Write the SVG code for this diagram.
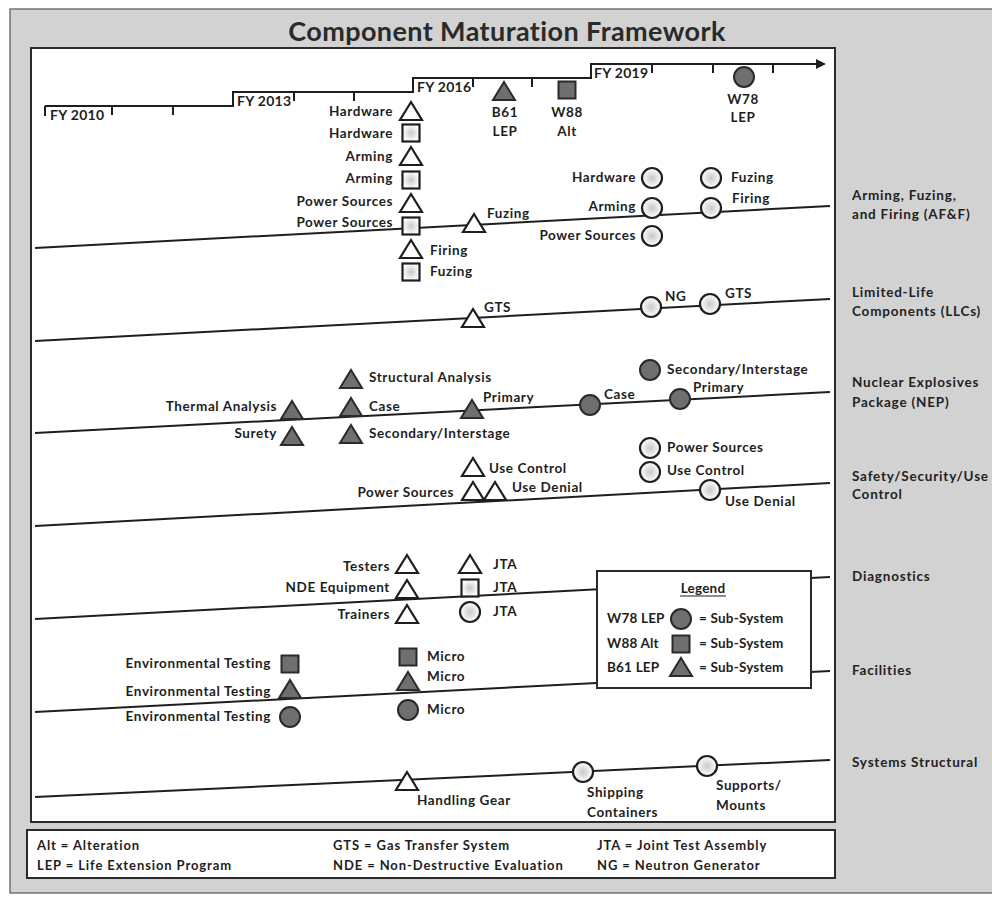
<svg xmlns="http://www.w3.org/2000/svg" xmlns:xlink="http://www.w3.org/1999/xlink" width="992" height="901" viewBox="0 0 992 901">
<style>
text{font-family:Lato,"Open Sans","Liberation Sans",sans-serif;font-weight:bold;fill:#1e1e1e;font-size:13.5px;letter-spacing:0.6px}
.end{text-anchor:end}
.mid{text-anchor:middle}
.lane{stroke:#1e1e1e;stroke-width:2;fill:none}
.tick{stroke:#1e1e1e;stroke-width:2}
.open{fill:#fff;stroke:#1e1e1e;stroke-width:2.2}
.soft{fill:url(#softg);stroke:#1e1e1e;stroke-width:2.2}
.dark{fill:#6f6f6f;stroke:#2a2a2a;stroke-width:2}
.side{font-size:13.5px;fill:#222;letter-spacing:0.8px}
.fy{font-size:14px;letter-spacing:0.3px}
.lg{font-size:13.5px;letter-spacing:0.2px}
.foot{font-size:13px;letter-spacing:0.9px}
.title{font-size:27px;fill:#2a2a2a;letter-spacing:0.4px}
</style>
<defs>
<radialGradient id="softg" cx="0.5" cy="0.5" r="0.5">
<stop offset="0" stop-color="#c8c8c8"/>
<stop offset="0.55" stop-color="#e6e6e6"/>
<stop offset="1" stop-color="#ffffff"/>
</radialGradient>
<marker id="arr" viewBox="0 0 10 10" refX="2" refY="5" markerWidth="5" markerHeight="5" orient="auto" markerUnits="strokeWidth">
<path d="M0,0 L10,5 L0,10 Z" fill="#1e1e1e"/>
</marker>
<path id="tO" d="M0,-9 L11,9 L-11,9 Z" class="open"/>
<path id="tD" d="M0,-9 L11,9 L-11,9 Z" class="dark"/>
<rect id="sO" x="-8.5" y="-8.5" width="17" height="17" class="soft"/>
<rect id="sD" x="-8.5" y="-8.5" width="17" height="17" class="dark"/>
<circle id="cO" r="10" class="soft"/>
<circle id="cD" r="10" class="dark"/>
</defs>

<!-- frame -->
<rect x="10" y="9" width="1000" height="884" fill="#d2d2d2" stroke="#555" stroke-width="1.2"/>
<rect x="31" y="48" width="804" height="774" fill="#fff" stroke="#2a2a2a" stroke-width="2"/>
<rect x="27" y="830" width="808" height="48" fill="#fff" stroke="#2a2a2a" stroke-width="2"/>
<text x="507" y="41" class="mid title">Component Maturation Framework</text>

<!-- timeline -->
<g id="timeline">
<path d="M45,106 H233 V92 H413 V78 H591 V64 H818" class="lane" marker-end="url(#arr)"/>
<path d="M45,106 V116 M112,106 V115 M173,106 V115 M233,92 V101 M294,92 V101 M354,92 V101 M413,78 V87 M473,78 V87 M532,78 V87 M591,64 V73 M652,64 V73 M713,64 V73 M773,64 V73" class="tick"/>
<text x="50" y="120" class="fy">FY 2010</text>
<text x="237" y="106" class="fy">FY 2013</text>
<text x="417" y="92" class="fy">FY 2016</text>
<text x="594" y="78" class="fy">FY 2019</text>
</g>
<g id="b61">
<use xlink:href="#tD" x="504" y="91"/>
<text x="505" y="117" class="mid">B61</text>
<text x="505" y="136" class="mid">LEP</text>
</g>
<g id="w88">
<use xlink:href="#sD" x="567" y="90"/>
<text x="567" y="117" class="mid">W88</text>
<text x="567" y="136" class="mid">Alt</text>
</g>
<g id="w78">
<use xlink:href="#cD" x="744" y="77"/>
<text x="743" y="104" class="mid">W78</text>
<text x="743" y="122" class="mid">LEP</text>
</g>

<!-- lane lines -->
<g id="connectors">
<line x1="35" y1="248" x2="830" y2="206" class="lane"/>
<line x1="35" y1="341" x2="830" y2="299" class="lane"/>
<line x1="35" y1="433" x2="830" y2="392" class="lane"/>
<line x1="35" y1="526" x2="830" y2="483" class="lane"/>
<line x1="35" y1="619" x2="830" y2="577" class="lane"/>
<line x1="35" y1="712" x2="830" y2="671" class="lane"/>
<line x1="35" y1="797" x2="830" y2="760" class="lane"/>
</g>

<!-- AF&F -->
<g id="aff-hardware-t"><use xlink:href="#tO" x="411" y="111"/><text x="393" y="116" class="end">Hardware</text></g>
<g id="aff-hardware-s"><use xlink:href="#sO" x="411" y="133"/><text x="393" y="138" class="end">Hardware</text></g>
<g id="aff-arming-t"><use xlink:href="#tO" x="411" y="156"/><text x="393" y="161" class="end">Arming</text></g>
<g id="aff-arming-s"><use xlink:href="#sO" x="411" y="180"/><text x="393" y="183" class="end">Arming</text></g>
<g id="aff-power-t"><use xlink:href="#tO" x="411" y="203"/><text x="393" y="206" class="end">Power Sources</text></g>
<g id="aff-power-s"><use xlink:href="#sO" x="411" y="226"/><text x="393" y="227" class="end">Power Sources</text></g>
<g id="aff-firing-t"><use xlink:href="#tO" x="411" y="249"/><text x="430" y="255">Firing</text></g>
<g id="aff-fuzing-s"><use xlink:href="#sO" x="411" y="272"/><text x="430" y="276">Fuzing</text></g>
<g id="aff-fuzing-t"><use xlink:href="#tO" x="474" y="223"/><text x="487" y="218">Fuzing</text></g>
<g id="aff-hardware-c"><use xlink:href="#cO" x="652" y="178"/><text x="636" y="182" class="end">Hardware</text></g>
<g id="aff-arming-c"><use xlink:href="#cO" x="652" y="208"/><text x="636" y="211" class="end">Arming</text></g>
<g id="aff-power-c"><use xlink:href="#cO" x="652" y="236"/><text x="636" y="240" class="end">Power Sources</text></g>
<g id="aff-fuzing-c"><use xlink:href="#cO" x="711" y="178"/><text x="731" y="182">Fuzing</text></g>
<g id="aff-firing-c"><use xlink:href="#cO" x="711" y="208"/><text x="732" y="203">Firing</text></g>

<!-- LLC -->
<g id="llc-gts-t"><use xlink:href="#tO" x="473" y="318"/><text x="484" y="312">GTS</text></g>
<g id="llc-ng-c"><use xlink:href="#cO" x="651" y="307"/><text x="665" y="301">NG</text></g>
<g id="llc-gts-c"><use xlink:href="#cO" x="710" y="304"/><text x="725" y="298">GTS</text></g>

<!-- NEP -->
<g id="nep-thermal"><use xlink:href="#tD" x="292" y="410"/><text x="277" y="411" class="end">Thermal Analysis</text></g>
<g id="nep-surety"><use xlink:href="#tD" x="292" y="436"/><text x="277" y="438" class="end">Surety</text></g>
<g id="nep-structural"><use xlink:href="#tD" x="351" y="379"/><text x="369" y="382">Structural Analysis</text></g>
<g id="nep-case-t"><use xlink:href="#tD" x="351" y="407"/><text x="369" y="411">Case</text></g>
<g id="nep-secondary-t"><use xlink:href="#tD" x="351" y="434"/><text x="369" y="438">Secondary/Interstage</text></g>
<g id="nep-primary-t"><use xlink:href="#tD" x="472" y="409"/><text x="483" y="402">Primary</text></g>
<g id="nep-case-c"><use xlink:href="#cD" x="590" y="405"/><text x="604" y="399">Case</text></g>
<g id="nep-primary-c"><use xlink:href="#cD" x="680" y="399"/><text x="693" y="392">Primary</text></g>
<g id="nep-secondary-c"><use xlink:href="#cD" x="650" y="370"/><text x="667" y="374">Secondary/Interstage</text></g>

<!-- Safety -->
<g id="ssu-usecontrol-t"><use xlink:href="#tO" x="473" y="467"/><text x="489" y="473">Use Control</text></g>
<g id="ssu-power-t"><use xlink:href="#tO" x="473" y="491"/><text x="454" y="497" class="end">Power Sources</text></g>
<g id="ssu-usedenial-t"><use xlink:href="#tO" x="495" y="491"/><text x="512" y="492">Use Denial</text></g>
<g id="ssu-power-c"><use xlink:href="#cO" x="650" y="448"/><text x="667" y="452">Power Sources</text></g>
<g id="ssu-usecontrol-c"><use xlink:href="#cO" x="650" y="472"/><text x="667" y="475">Use Control</text></g>
<g id="ssu-usedenial-c"><use xlink:href="#cO" x="710" y="490"/><text x="725" y="506">Use Denial</text></g>

<!-- Diagnostics -->
<g id="diag-testers"><use xlink:href="#tO" x="407" y="564"/><text x="390" y="571" class="end">Testers</text></g>
<g id="diag-nde"><use xlink:href="#tO" x="407" y="589"/><text x="390" y="592" class="end">NDE Equipment</text></g>
<g id="diag-trainers"><use xlink:href="#tO" x="407" y="614"/><text x="390" y="619" class="end">Trainers</text></g>
<g id="diag-jta-t"><use xlink:href="#tO" x="470" y="564"/><text x="493" y="569">JTA</text></g>
<g id="diag-jta-s"><use xlink:href="#sO" x="470" y="588"/><text x="493" y="592">JTA</text></g>
<g id="diag-jta-c"><use xlink:href="#cO" x="470" y="612"/><text x="493" y="616">JTA</text></g>

<!-- Facilities -->
<g id="fac-env-s"><use xlink:href="#sD" x="290" y="664"/><text x="271" y="668" class="end">Environmental Testing</text></g>
<g id="fac-env-t"><use xlink:href="#tD" x="290" y="689"/><text x="271" y="696" class="end">Environmental Testing</text></g>
<g id="fac-env-c"><use xlink:href="#cD" x="290" y="717"/><text x="271" y="721" class="end">Environmental Testing</text></g>
<g id="fac-micro-s"><use xlink:href="#sD" x="408" y="657"/><text x="427" y="661">Micro</text></g>
<g id="fac-micro-t"><use xlink:href="#tD" x="408" y="681"/><text x="427" y="681">Micro</text></g>
<g id="fac-micro-c"><use xlink:href="#cD" x="408" y="710"/><text x="427" y="714">Micro</text></g>

<!-- Systems Structural -->
<g id="ss-handling"><use xlink:href="#tO" x="407" y="781"/><text x="417" y="805">Handling Gear</text></g>
<g id="ss-shipping"><use xlink:href="#cO" x="583" y="772"/><text x="587" y="797">Shipping</text><text x="587" y="817">Containers</text></g>
<g id="ss-supports"><use xlink:href="#cO" x="707" y="766"/><text x="716" y="790">Supports/</text><text x="716" y="810">Mounts</text></g>

<!-- Legend -->
<g id="legend">
<rect x="597" y="571" width="214" height="117" fill="#fff" stroke="#2a2a2a" stroke-width="2"/>
<text x="703" y="593" class="mid lg">Legend</text>
<line x1="680" y1="596" x2="726" y2="596" stroke="#1e1e1e" stroke-width="1.2"/>
<text x="607" y="623" class="lg">W78 LEP</text>
<use xlink:href="#cD" x="681" y="619"/>
<text x="699" y="623" class="lg">= Sub-System</text>
<text x="607" y="648" class="lg">W88 Alt</text>
<use xlink:href="#sD" x="681" y="644"/>
<text x="699" y="648" class="lg">= Sub-System</text>
<text x="607" y="672" class="lg">B61 LEP</text>
<use xlink:href="#tD" x="681" y="667"/>
<text x="699" y="672" class="lg">= Sub-System</text>
</g>

<!-- right side lane labels -->
<g id="lane-labels">
<text x="852" y="200" class="side">Arming, Fuzing,</text>
<text x="852" y="219" class="side">and Firing (AF&amp;F)</text>
<text x="852" y="297" class="side">Limited-Life</text>
<text x="852" y="316" class="side">Components (LLCs)</text>
<text x="852" y="387" class="side">Nuclear Explosives</text>
<text x="852" y="407" class="side">Package (NEP)</text>
<text x="852" y="481" class="side">Safety/Security/Use</text>
<text x="852" y="499" class="side">Control</text>
<text x="852" y="581" class="side">Diagnostics</text>
<text x="852" y="675" class="side">Facilities</text>
<text x="852" y="767" class="side">Systems Structural</text>
</g>

<!-- abbreviations -->
<g id="abbrev">
<text x="37" y="850" class="foot">Alt = Alteration</text>
<text x="37" y="870" class="foot">LEP = Life Extension Program</text>
<text x="333" y="850" class="foot">GTS = Gas Transfer System</text>
<text x="333" y="870" class="foot">NDE = Non-Destructive Evaluation</text>
<text x="597" y="850" class="foot">JTA = Joint Test Assembly</text>
<text x="597" y="870" class="foot">NG = Neutron Generator</text>
</g>
</svg>
